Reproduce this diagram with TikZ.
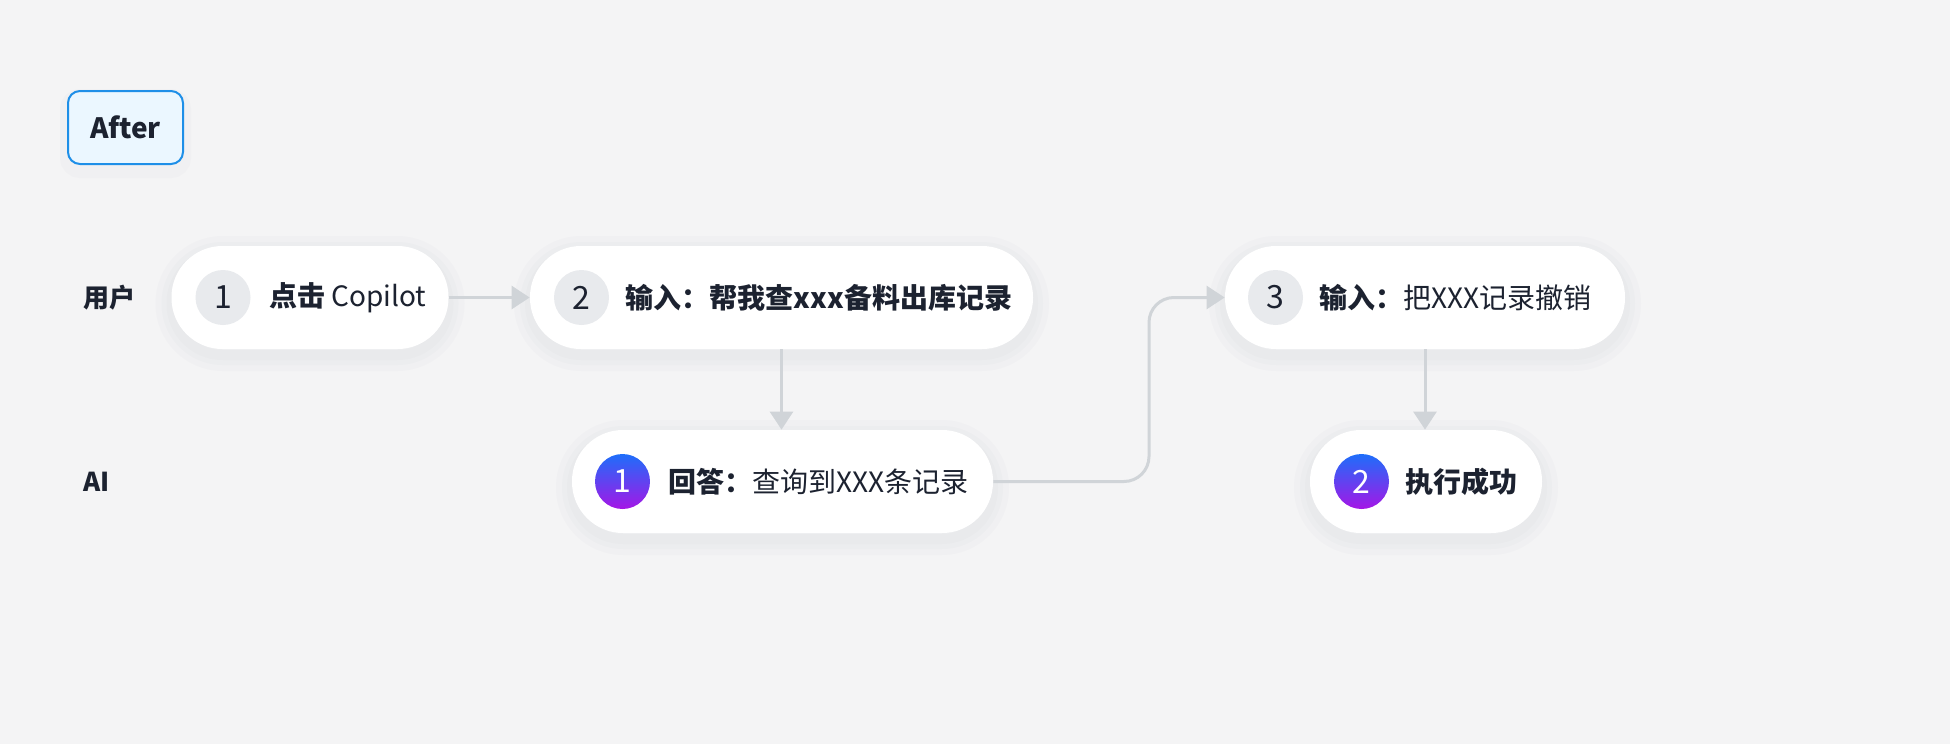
\documentclass[tikz,border=0pt]{standalone}
\usepackage{fontspec}
\setmainfont{Noto Sans CJK SC}
\usepackage{tikz}
\usetikzlibrary{positioning, arrows.meta}
\definecolor{sfondo}{RGB}{244, 244, 245}
\definecolor{inchiostro}{RGB}{28, 34, 48}
\definecolor{grigioFreccia}{RGB}{208, 212, 216}
\definecolor{grigioCerchio}{RGB}{232, 234, 237}
\definecolor{bluAfter}{RGB}{30, 143, 232}
\definecolor{celesteAfter}{RGB}{235, 247, 255}
\definecolor{bluAlto}{RGB}{30, 110, 250}
\definecolor{violaBasso}{RGB}{165, 22, 230}
\definecolor{ombra}{RGB}{110, 116, 130}

\begin{document}
\begin{tikzpicture}[x=0.5pt, y=-0.5pt,
    alone/.style={preaction={draw=ombra, line width=#1, draw opacity=0.022, transform canvas={yshift=-3pt}}},
    pill/.style={rectangle, rounded corners=25.5pt, fill=white, minimum height=51.5pt, inner sep=0pt,
        alone=16pt, alone=10pt, alone=5pt},
    numero/.style={circle, minimum size=27.5pt, inner sep=0pt, font=\fontsize{16pt}{16pt}\selectfont},
    numUtente/.style={numero, fill=grigioCerchio, text=inchiostro},
    numAI/.style={numero, top color=bluAlto, bottom color=violaBasso, text=white},
    testo/.style={inner sep=0pt, anchor=west, text=inchiostro, font=\fontsize{14pt}{16pt}\selectfont},
    etichetta/.style={inner sep=0pt, anchor=west, text=inchiostro, font=\bfseries\fontsize{13pt}{15pt}\selectfont},
    freccia/.style={draw=grigioFreccia, line width=1.5pt, -{Triangle[length=9pt, width=11.5pt]}}
]
                % Background
                \fill[sfondo] (0,0) rectangle (1950,744);

                % Tag
                \node[draw=bluAfter, fill=celesteAfter, line width=1pt, rounded corners=6pt, minimum width=57.5pt, minimum height=36.5pt,
                    text=inchiostro, font=\bfseries\fontsize{14pt}{16pt}\selectfont, alone=8pt] (after) at (125.5,127.5) {After};

                % Lanes
                \node[etichetta] (lUtente) at (83,298) {用户};
                \node[etichetta] (lAI) at (83,482) {AI};

                % User steps
                \node[pill, minimum width=138.5pt] (u1) at (310,297.5) {};
                \node[numUtente, right=12pt of u1.west] (u1n) {1};
                \node[testo, right=9pt of u1n] (u1t) {\textbf{点击} Copilot};

                \node[pill, minimum width=251.5pt] (u2) at (781.5,297.5) {};
                \node[numUtente, right=12pt of u2.west] (u2n) {2};
                \node[testo, right=8pt of u2n] (u2t) {\textbf{输入：帮我查xxx备料出库记录}};

                \node[pill, minimum width=200pt] (u3) at (1425,297.5) {};
                \node[numUtente, right=11.5pt of u3.west] (u3n) {3};
                \node[testo, right=8pt of u3n] (u3t) {\textbf{输入：}把XXX记录撤销};

                % AI steps
                \node[pill, minimum width=210.5pt] (a1) at (782.5,481.5) {};
                \node[numAI, right=11.5pt of a1.west] (a1n) {1};
                \node[testo, right=9pt of a1n] (a1t) {\textbf{回答：}查询到XXX条记录};

                \node[pill, minimum width=116pt] (a2) at (1426,481.5) {};
                \node[numAI, right=12pt of a2.west] (a2n) {2};
                \node[testo, right=8pt of a2n] (a2t) {\textbf{执行成功}};

                % Connectors
                \coordinate (gomito) at (1149,390);
                \draw[freccia] (u1) -- (u2);
                \draw[freccia] (u2.south) -- (u2.south |- a1.north);
                \draw[freccia] (u3.south) -- (u3.south |- a2.north);
                \draw[freccia, rounded corners=12.5pt] (a1.east) -| (gomito) |- (u3.west);
            \end{tikzpicture}
\end{document}
